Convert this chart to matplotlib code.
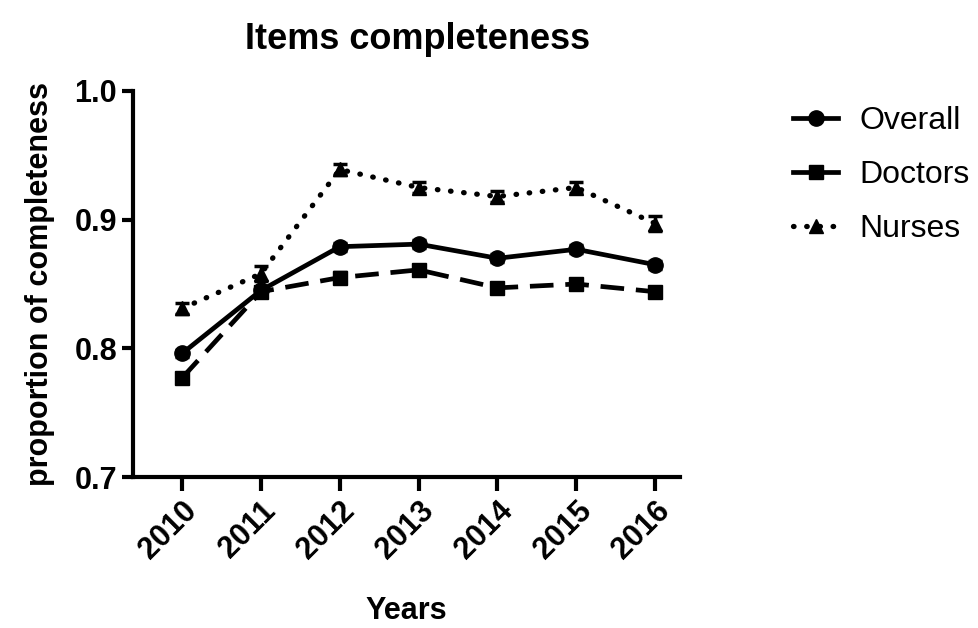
import numpy as np
import matplotlib
matplotlib.use('Agg')
import matplotlib.pyplot as plt
from matplotlib.lines import Line2D

plt.rcParams['font.family'] = ['Liberation Sans', 'DejaVu Sans']

years = [2010, 2011, 2012, 2013, 2014, 2015, 2016]

overall = [0.796, 0.845, 0.879, 0.881, 0.870, 0.877, 0.865]
overall_err = [0.003, 0.003, 0.003, 0.003, 0.003, 0.003, 0.003]

doctors = [0.777, 0.844, 0.855, 0.861, 0.847, 0.850, 0.844]
doctors_err = [0.004, 0.004, 0.004, 0.004, 0.004, 0.004, 0.004]

nurses = [0.831, 0.858, 0.939, 0.925, 0.918, 0.925, 0.897]
nurses_err = [0.004, 0.006, 0.004, 0.004, 0.004, 0.004, 0.006]

fig = plt.figure(figsize=(9.79, 6.28), dpi=100)
ax = fig.add_axes([0.136, 0.2404, 0.559, 0.6147])

lw = 3.4
ax.errorbar(years, overall, yerr=overall_err, color='black', lw=lw, marker='o', ms=11,
            capsize=5, capthick=2.5, elinewidth=2.5)
ax.errorbar(years, doctors, yerr=doctors_err, color='black', lw=lw, marker='s', ms=10,
            capsize=5, capthick=2.5, elinewidth=2.5, linestyle=(0, (5, 2.5)))
e3 = ax.errorbar(years, nurses, yerr=nurses_err, color='black', lw=3.8, marker='^', ms=10,
                 capsize=5, capthick=2.5, elinewidth=2.5, linestyle=(0, (0.1, 2.4)))
e3[0].set_dash_capstyle('round')

ax.set_xlim(2009.38, 2016.32)
ax.set_ylim(0.7, 1.0)
ax.set_xticks(years)
ax.set_yticks([0.7, 0.8, 0.9, 1.0])
ax.set_yticklabels(['0.7', '0.8', '0.9', '1.0'])
ax.set_xticklabels([str(y) for y in years], rotation=45, ha='right', rotation_mode='anchor')

for s in ['top', 'right']:
    ax.spines[s].set_visible(False)
for s in ['left', 'bottom']:
    ax.spines[s].set_linewidth(3)

ax.tick_params(axis='y', width=3, length=8, labelsize=22)
ax.tick_params(axis='x', width=3, length=10, labelsize=22)
for lab in ax.get_xticklabels() + ax.get_yticklabels():
    lab.set_fontweight('bold')

ax.set_title('Items completeness', fontsize=26, fontweight='bold', pad=30, x=0.52)
ax.set_xlabel('Years', fontsize=22, fontweight='bold', labelpad=22)
ax.set_ylabel('proportion of completeness', fontsize=22, fontweight='bold', labelpad=14)

# legend handles: solid for overall/doctors, dotted for nurses (no error bars)
handles = [
    Line2D([], [], color='black', lw=lw, marker='o', ms=11),
    Line2D([], [], color='black', lw=lw, marker='s', ms=10),
    Line2D([], [], color='black', lw=3.8, marker='^', ms=10, linestyle=(0, (0.1, 2.4)),
           dash_capstyle='round'),
]
fig.legend(handles, ['Overall', 'Doctors', 'Nurses'],
           loc='upper left', bbox_to_anchor=(0.781, 0.877), frameon=False,
           fontsize=23, handlelength=1.4, labelspacing=0.75, handletextpad=0.68)

fig.savefig('out.png', dpi=100)
